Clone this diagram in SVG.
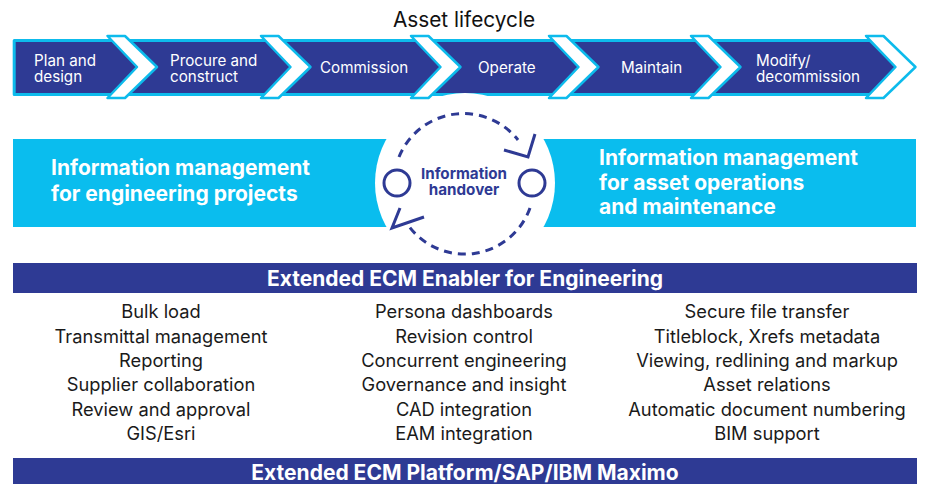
<svg xmlns="http://www.w3.org/2000/svg" width="925" height="484" viewBox="0 0 925 484">
<style>
  .band { fill: #2E3A94; stroke: #0DBBEC; stroke-width: 3; stroke-linejoin: round; }
  .chev { fill: #FFFFFF; stroke: #0DBBEC; stroke-width: 2.5; stroke-linejoin: round; }
  .step { font-family: Inter, "Liberation Sans", sans-serif; font-size: 15.2px; fill: #FFFFFF; }
  .title { font-family: Inter, "Liberation Sans", sans-serif; font-size: 20.8px; fill: #111111; }
  .big { font-family: Inter, "Liberation Sans", sans-serif; font-size: 21px; font-weight: bold; fill: #FFFFFF; }
  .hand { font-family: Inter, "Liberation Sans", sans-serif; font-size: 15.2px; font-weight: bold; fill: #2E3A94; text-anchor: middle; }
  .hdr { font-family: Inter, "Liberation Sans", sans-serif; font-size: 21px; font-weight: bold; fill: #FFFFFF; text-anchor: middle; }
  .item { font-family: Inter, "Liberation Sans", sans-serif; font-size: 18.3px; fill: #1A1A1A; text-anchor: middle; }
  .dash { fill: none; stroke: #2E3A94; stroke-width: 3; stroke-dasharray: 8 6; }
  .solid { fill: none; stroke: #2E3A94; stroke-width: 3; stroke-linecap: butt; }
</style>
<rect width="925" height="484" fill="#FFFFFF"/>

<g id="lifecycle">
  <text class="title" x="464" y="27" text-anchor="middle">Asset lifecycle</text>
  <polygon class="band" points="14.2,40.5 870,40.5 897,67.5 870,94.5 14.2,94.5"/>
  <polygon class="chev" points="107.5,36 125,36 157,67 125,98 107.5,98 137,67"/>
  <polygon class="chev" points="261,36 278.5,36 310.5,67 278.5,98 261,98 290.5,67"/>
  <polygon class="chev" points="411,36 428.5,36 460.5,67 428.5,98 411,98 440.5,67"/>
  <polygon class="chev" points="549,36 566.5,36 598.5,67 566.5,98 549,98 578.5,67"/>
  <polygon class="chev" points="691,36 708.5,36 740.5,67 708.5,98 691,98 720.5,67"/>
  <polygon class="chev" points="866,36 883.5,36 915.5,67 883.5,98 866,98 895.5,67"/>
</g>
<g id="step-plan"><text class="step" x="34" y="66">Plan and</text><text class="step" x="34" y="82">design</text></g>
<g id="step-procure"><text class="step" x="170" y="66">Procure and</text><text class="step" x="170" y="82">construct</text></g>
<g id="step-commission"><text class="step" x="320" y="73">Commission</text></g>
<g id="step-operate"><text class="step" x="478" y="73">Operate</text></g>
<g id="step-maintain"><text class="step" x="621" y="73">Maintain</text></g>
<g id="step-modify"><text class="step" x="756" y="66">Modify/</text><text class="step" x="756" y="82">decommission</text></g>

<g id="info-band">
  <rect x="13" y="139" width="903" height="88" fill="#0ABDEE"/>
  <circle cx="465" cy="183" r="90" fill="#FFFFFF"/>
</g>
<g id="im-engineering">
  <text class="big" x="51" y="175">Information management</text>
  <text class="big" x="51" y="201">for engineering projects</text>
</g>
<g id="im-operations">
  <text class="big" x="599" y="165">Information management</text>
  <text class="big" x="599" y="190">for asset operations</text>
  <text class="big" x="599" y="214">and maintenance</text>
</g>
<g id="handover">
  <circle cx="397" cy="183" r="13" fill="none" stroke="#2E3A94" stroke-width="3"/>
  <circle cx="532" cy="183" r="13" fill="none" stroke="#2E3A94" stroke-width="3"/>
  <text class="hand" x="464" y="178.5">Information</text>
  <text class="hand" x="464" y="195">handover</text>
</g>
<g id="connectors">
  <path class="dash" d="M 399 157 A 69.5 69.5 0 0 1 518 140"/>
  <polyline class="solid" points="535,134 528,157 504,150"/>
  <path class="dash" d="M 530 208 A 69.5 69.5 0 0 1 408 225"/>
  <polyline class="solid" points="400,208 392,228 424,217"/>
</g>

<g id="enabler">
  <rect x="13" y="263" width="904" height="30" fill="#2E3A94"/>
  <text class="hdr" x="465" y="286">Extended ECM Enabler for Engineering</text>
</g>
<g id="col1">
  <text class="item" x="161" y="318">Bulk load</text>
  <text class="item" x="161" y="342.5">Transmittal management</text>
  <text class="item" x="161" y="367">Reporting</text>
  <text class="item" x="161" y="391">Supplier collaboration</text>
  <text class="item" x="161" y="415.5">Review and approval</text>
  <text class="item" x="161" y="440">GIS/Esri</text>
</g>
<g id="col2">
  <text class="item" x="464" y="318">Persona dashboards</text>
  <text class="item" x="464" y="342.5">Revision control</text>
  <text class="item" x="464" y="367">Concurrent engineering</text>
  <text class="item" x="464" y="391">Governance and insight</text>
  <text class="item" x="464" y="415.5">CAD integration</text>
  <text class="item" x="464" y="440">EAM integration</text>
</g>
<g id="col3">
  <text class="item" x="767" y="318">Secure file transfer</text>
  <text class="item" x="767" y="342.5">Titleblock, Xrefs metadata</text>
  <text class="item" x="767" y="367">Viewing, redlining and markup</text>
  <text class="item" x="767" y="391">Asset relations</text>
  <text class="item" x="767" y="415.5">Automatic document numbering</text>
  <text class="item" x="767" y="440">BIM support</text>
</g>
<g id="platform">
  <rect x="13" y="458" width="904" height="26" fill="#2E3A94"/>
  <text class="hdr" x="465" y="480">Extended ECM Platform/SAP/IBM Maximo</text>
</g>
</svg>
